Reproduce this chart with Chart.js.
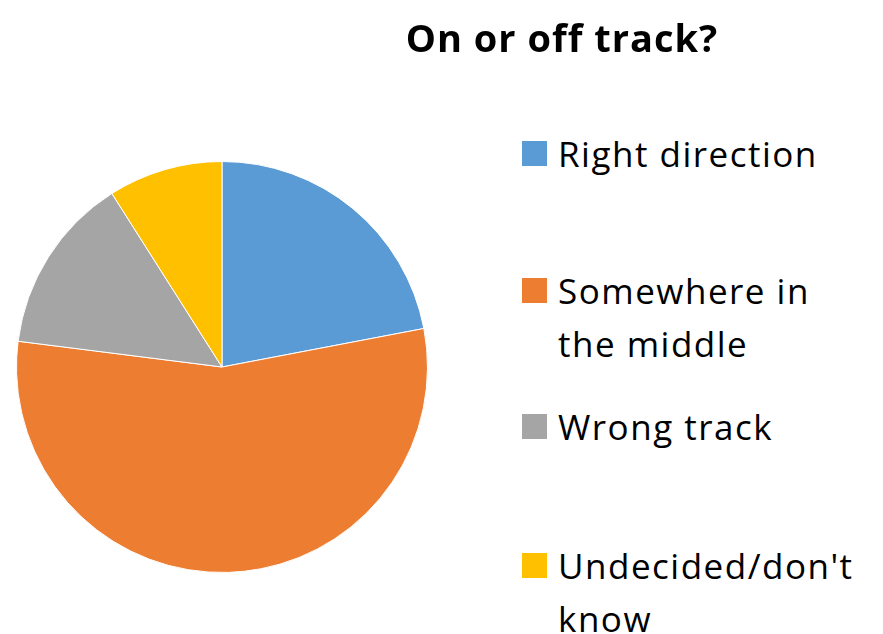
<!DOCTYPE html>
<html>
<head>
<meta charset="utf-8">
<script src="https://cdn.jsdelivr.net/npm/chart.js@4"></script>
<style>
  body { margin: 0; background: #fff; font-family: "Open Sans", Lato, sans-serif; }
  .wrap { position: relative; width: 883px; height: 634px; overflow: hidden; }
  .pie_box { position: absolute; left: 0; top: 0; width: 444px; height: 634px; }
  .title { position: absolute; left: 380px; width: 364px; top: 14px; text-align: center;
           font-weight: bold; font-size: 38px; letter-spacing: 1px; color: #000; line-height: 46px; }
  .legend_item { position: absolute; left: 522px; width: 360px; display: flex; align-items: flex-start; }
  .legend_box { width: 25px; height: 25px; margin-top: 14px; flex: none; }
  .legend_text { margin-left: 11px; font-size: 35px; letter-spacing: 1.5px; line-height: 53px; color: #000; width: 320px; }
</style>
</head>
<body>
<div class="wrap">
  <div class="pie_box"><canvas id="myChart"></canvas></div>
  <div class="title" id="title"></div>
  <div id="legend"></div>
</div>
<script>
const title = 'On or off track?'
const categories = ['Right direction', 'Somewhere in the middle', 'Wrong track', "Undecided/don't know"]
const shares = [22, 55, 14, 9]
const colors = ['#5B9BD5', '#ED7D31', '#A5A5A5', '#FFC000']
const legendTops = [127, 264, 400, 539]

document.getElementById('title').textContent = title

const legend = document.getElementById('legend')
categories.map((cat, i) => {
    const item = document.createElement('div')
    item.className = 'legend_item'
    item.style.top = legendTops[i] + 'px'
    const box = document.createElement('div')
    box.className = 'legend_box'
    box.style.background = colors[i]
    const txt = document.createElement('div')
    txt.className = 'legend_text'
    txt.textContent = cat
    item.appendChild(box)
    item.appendChild(txt)
    legend.appendChild(item)
})

const ctx = document.getElementById('myChart').getContext('2d')
new Chart(ctx, {
    type: 'pie',
    data: {
        labels: categories,
        datasets: [
            {
                data: shares,
                backgroundColor: colors,
                borderColor: '#fff',
                borderWidth: 1
            }
        ]
    },
    options: {
        responsive: true,
        maintainAspectRatio: false,
        animation: false,
        layout: { padding: { top: 161, bottom: 61, left: 16, right: 16 } },
        plugins: {
            legend: { display: false },
            tooltip: { enabled: false }
        }
    }
})
</script>
</body>
</html>
